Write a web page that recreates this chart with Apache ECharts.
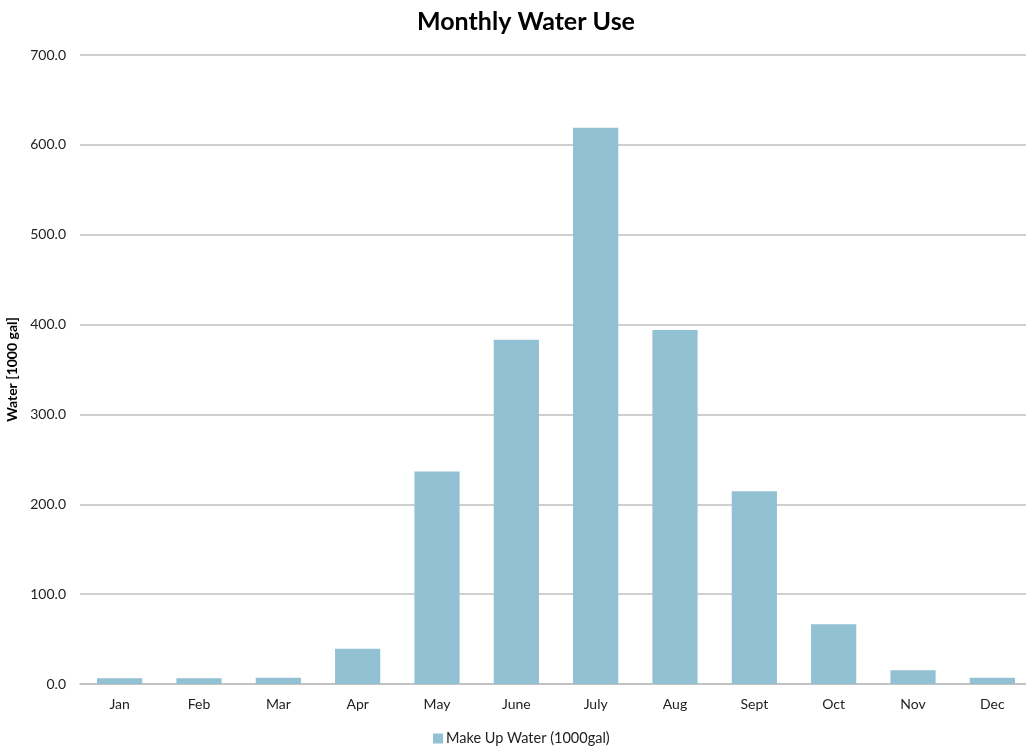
<!DOCTYPE html>
<html>
<head>
<meta charset="utf-8">
<script src="https://cdn.jsdelivr.net/npm/echarts@6/dist/echarts.min.js"></script>
<style>
  html, body { margin: 0; padding: 0; background: #fff; }
  #chart { width: 1026px; height: 751px; }
</style>
</head>
<body>
<div id="chart"></div>
<script>
// Monthly make-up water volume, thousands of gallons
const months = ['Jan', 'Feb', 'Mar', 'Apr', 'May', 'June', 'July', 'Aug', 'Sept', 'Oct', 'Nov', 'Dec'];
const makeUpWater = [6.3, 6.3, 7.0, 39.3, 236.5, 383.0, 619.0, 394.0, 214.5, 66.5, 15.2, 7.0];
const seriesName = 'Make Up Water (1000gal)';

const FONT = 'Lato, "Open Sans", sans-serif';
const chart = echarts.init(document.getElementById('chart'));
chart.setOption({
  animation: false,
  title: {
    text: 'Monthly Water Use',
    left: 412,
    top: 4,
    textStyle: { fontFamily: FONT, fontSize: 25, fontWeight: 'bold', color: '#000' }
  },
  legend: {
    bottom: 0,
    left: 428,
    icon: 'rect',
    itemWidth: 10,
    itemHeight: 10,
    itemGap: 4,
    textStyle: { fontFamily: FONT, fontSize: 14.5, color: '#222', padding: [0, 0, 0, -2] },
    data: [seriesName]
  },
  // plot runs slightly past the right edge of the canvas
  grid: {
    left: 80, width: 952, top: 55, bottom: 67,
    containLabel: false, outerBoundsMode: 'none'
  },
  xAxis: {
    type: 'category',
    data: months,
    axisTick: { show: false },
    axisLine: { lineStyle: { color: '#BFBFBF', width: 1.5 } },
    axisLabel: { fontFamily: FONT, fontSize: 14, color: '#222', margin: 13 }
  },
  yAxis: {
    type: 'value',
    min: 0,
    max: 700,
    interval: 100,
    name: 'Water [1000 gal]',
    nameLocation: 'middle',
    nameRotate: 90,
    nameGap: 54,
    nameTextStyle: { fontFamily: FONT, fontSize: 14, fontWeight: 'bold', color: '#000' },
    axisLine: { show: false },
    axisTick: { show: false },
    axisLabel: {
      fontFamily: FONT, fontSize: 14, color: '#222', margin: 14,
      formatter: v => v.toFixed(1)
    },
    splitLine: { lineStyle: { color: '#BFBFBF', width: 1.5 } }
  },
  series: [{
    name: seriesName,
    type: 'bar',
    data: makeUpWater,
    barWidth: '57%',
    itemStyle: { color: '#92C1D3' }
  }]
});
</script>
</body>
</html>
